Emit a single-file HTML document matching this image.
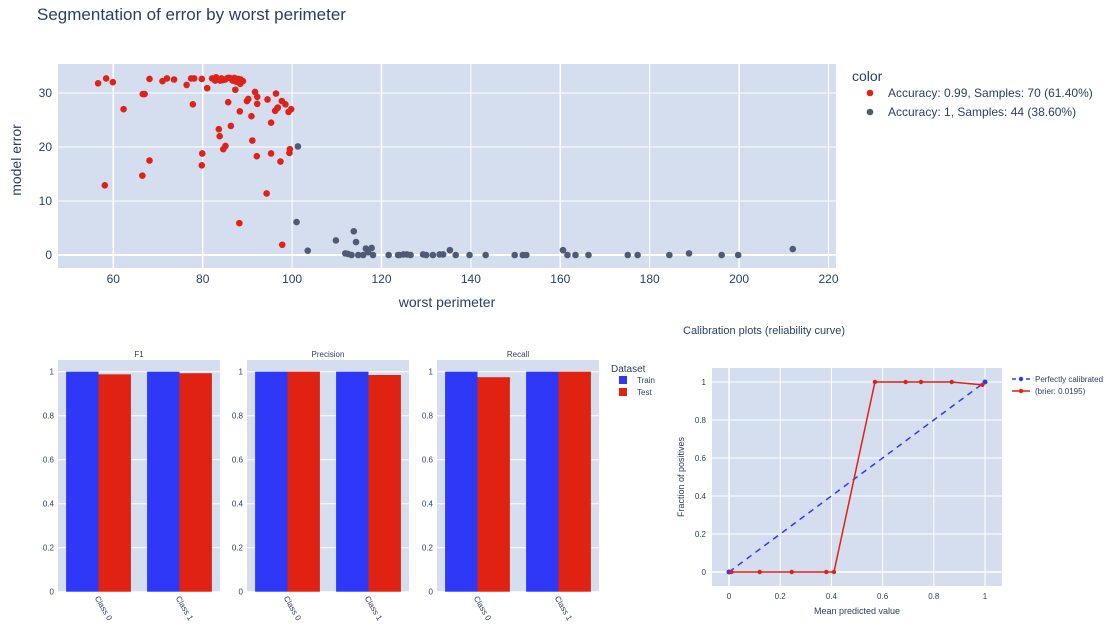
<!DOCTYPE html>
<html><head><meta charset="utf-8">
<style>
body{margin:0;background:#fff;font-family:"Liberation Sans",sans-serif;}
svg text{font-family:"Liberation Sans",sans-serif;fill:#2a3f5f;}
</style></head>
<body>
<svg id="s" width="1118" height="626" xmlns="http://www.w3.org/2000/svg">
<text x="37" y="20" font-size="17">Segmentation of error by worst perimeter</text>
</svg>
<script>
// ===== Scatter data =====
const redX=[56.6,58.4,59.9,62.3,58.1,66.5,68.1,67.0,68.1,71.0,72.0,73.6,76.4,77.4,78.1,77.8,79.8,81.0,79.9,79.8,82.1,82.8,83.9,84.2,85.6,86.7,87.1,88.0,88.4,89.0,87.3,85.7,88.3,89.9,83.6,83.8,86.3,84.6,85.1,88.2,90.9,91.1,91.7,92.2,92.2,92.1,94.3,94.5,95.3,95.3,96.4,97.7,96.2,96.7,98.5,97.4,97.8,99.2,99.8,99.5,99.4,85.0,86.0,84.5,87.5,88.5,66.6,90.2,83.0,96.8];
const redY=[31.8,32.7,32.0,27.0,12.9,14.7,17.5,29.8,32.6,32.2,32.7,32.5,31.5,32.7,32.7,27.9,32.6,30.9,18.8,16.6,32.7,32.3,32.3,32.7,32.8,32.3,32.8,32.6,31.7,32.2,30.6,28.3,26.6,28.5,23.3,22.0,23.9,19.6,20.2,5.9,25.7,21.2,30.2,29.3,28.0,18.3,11.4,28.8,24.5,18.8,29.9,28.5,26.7,27.2,27.9,17.3,1.9,26.5,27.0,19.6,18.9,32.5,32.8,32.4,32.1,32.5,29.8,28.9,32.9,27.3];
const greyX=[101.3,101.0,103.5,109.8,111.9,113.8,114.3,113.3,115.9,116.5,117.8,118.1,121.6,123.7,124.9,125.7,129.3,133.0,133.8,135.3,136.6,139.7,143.3,149.8,151.6,152.4,160.6,161.6,163.4,166.3,175.1,177.3,184.4,188.8,196.1,199.8,212.0,112.5,114.8,126.5,130.0,131.5,124.0,117.0];
const greyY=[20.1,6.1,0.8,2.7,0.3,4.4,2.4,0,0,1.2,1.3,0,0,0,0.1,0.1,0.1,0.1,0.1,0.9,0,0,0,0,0,0,0.9,0,0,0,0,0,0,0.3,0,0,1.1,0.2,0,0,0,0,0,0.5];
const scXTicks=[60,80,100,120,140,160,180,200,220];
const scYTicks=[0,10,20,30];
// ===== Bar data =====
const barPanels=["F1","Precision","Recall"];
const barCats=["Class 0","Class 1"];
const trainVals=[[1,1],[1,1],[1,1]];
const testVals=[[0.988,0.993],[1,0.985],[0.975,1]];
const barYTicks=[0,0.2,0.4,0.6,0.8,1];
// ===== Calibration data =====
const perfX=[0,1];
const perfY=[0,1];
const calX=[0.01,0.12,0.245,0.38,0.41,0.57,0.69,0.75,0.87,0.99];
const calY=[0,0,0,0,0,1,1,1,1,0.985];
const calTicks=[0,0.2,0.4,0.6,0.8,1];

const S=document.getElementById('s');
const NS='http://www.w3.org/2000/svg';
function mk(tag,attrs,parent){const e=document.createElementNS(NS,tag);for(const k in attrs)e.setAttribute(k,attrs[k]);(parent||S).appendChild(e);return e;}
function txt(x,y,str,size,anchor,parent){const t=mk('text',{x:x,y:y,'font-size':size,'text-anchor':anchor||'start'},parent);t.textContent=str;return t;}

// ===== Scatter =====
const sc={x0:58,x1:836,y0:64,y1:268};
const sx=v=>113.3+(v-60)*4.47;
const sy=v=>255-v*5.4;
let g=mk('g',{});


mk('rect',{x:sc.x0,y:sc.y0,width:sc.x1-sc.x0,height:sc.y1-sc.y0,fill:'#d5deee'},g);
scXTicks.forEach(v=>{mk('line',{x1:sx(v),x2:sx(v),y1:sc.y0,y2:sc.y1,stroke:'#fff','stroke-width':v==60||v%40==0?1.5:1},g);const t=txt(sx(v),283,String(v),12,'middle',g);});
scYTicks.forEach(v=>{mk('line',{x1:sc.x0,x2:sc.x1,y1:sy(v),y2:sy(v),stroke:'#fff','stroke-width':v==0?2:1},g);const t=txt(52,sy(v)+4,String(v),12,'end',g);});
let t=txt(447,307,'worst perimeter',14,'middle',g);

t=txt(0,0,'model error',14,'middle',g);t.setAttribute('transform','translate(21,160) rotate(-90)');

greyX.forEach((v,i)=>{const c=mk('circle',{cx:sx(v),cy:sy(greyY[i]),r:3.3,fill:'#4f5b73'},g);});
redX.forEach((v,i)=>{const c=mk('circle',{cx:sx(v),cy:sy(redY[i]),r:3.3,fill:'#e0211a'},g);});
// legend
let lg=mk('g',{});


txt(852,81,'color',14,'start',lg);
mk('circle',{cx:870,cy:93,r:3.3,fill:'#e0211a'},lg);
txt(888,97,'Accuracy: 0.99, Samples: 70 (61.40%)',12,'start',lg);
mk('circle',{cx:870,cy:112,r:3.3,fill:'#4f5b73'},lg);
txt(888,116,'Accuracy: 1, Samples: 44 (38.60%)',12,'start',lg);

// ===== Bars =====
const panelX=[58,247,437];
const pw=162, by0=591.7, byScale=220, byTop=360;
const byf=v=>by0-v*byScale;
barPanels.forEach((name,p)=>{
  const pg=mk('g',{});
  
  
  const x0=panelX[p];
  mk('rect',{x:x0,y:byTop,width:pw,height:by0-byTop,fill:'#d5deee'},pg);
  barYTicks.forEach(v=>{mk('line',{x1:x0,x2:x0+pw,y1:byf(v),y2:byf(v),stroke:'#fff','stroke-width':1},pg);txt(x0-4,byf(v)+3,String(v),8,'end',pg);});
  txt(x0+pw/2,357,name,8,'middle',pg);
  const cw=pw/2;
  barCats.forEach((c,i)=>{
    const cx0=x0+i*cw+cw*0.1, bw=cw*0.4;
    const r1=mk('rect',{x:cx0,y:byf(trainVals[p][i]),width:bw,height:trainVals[p][i]*byScale,fill:'#2f38f6'},pg);
    
    const r2=mk('rect',{x:cx0+bw,y:byf(testVals[p][i]),width:bw,height:testVals[p][i]*byScale,fill:'#e02212'},pg);
    
    const lt=txt(0,0,c,8,'start',pg);lt.setAttribute('transform','translate('+(x0+i*cw+cw/2-4)+',598) rotate(60)');
  });
});
let bl=mk('g',{});


txt(611,372,'Dataset',10,'start',bl);
mk('rect',{x:619,y:376,width:8,height:8,fill:'#2f38f6'},bl);
txt(637,383,'Train',8,'start',bl);
mk('rect',{x:619,y:388,width:8,height:8,fill:'#e02212'},bl);
txt(637,395,'Test',8,'start',bl);

// ===== Calibration =====
const cg=mk('g',{});


const cx=v=>729+v*256, cy=v=>572-v*190;
txt(683,334,'Calibration plots (reliability curve)',11,'start',cg);
mk('rect',{x:712,y:368,width:290,height:218,fill:'#d5deee'},cg);
calTicks.forEach(v=>{
  mk('line',{x1:cx(v),x2:cx(v),y1:368,y2:586,stroke:'#fff','stroke-width':v==0?1.5:1},cg);
  mk('line',{x1:712,x2:1002,y1:cy(v),y2:cy(v),stroke:'#fff','stroke-width':v==0?1.5:1},cg);
  txt(cx(v),599,String(v),8,'middle',cg);
  txt(706,cy(v)+3,String(v),8,'end',cg);
});
txt(857,614,'Mean predicted value',9,'middle',cg);
t=txt(0,0,'Fraction of positives',9,'middle',cg);t.setAttribute('transform','translate(684,477) rotate(-90)');
let pts=perfX.map((v,i)=>cx(v)+','+cy(perfY[i])).join(' ');
const pl=mk('polyline',{points:pts,fill:'none',stroke:'#2f38f6','stroke-width':1.5,'stroke-dasharray':'6,5'},cg);

perfX.forEach((v,i)=>mk('circle',{cx:cx(v),cy:cy(perfY[i]),r:2.5,fill:'#2f38f6'},cg));
pts=calX.map((v,i)=>cx(v)+','+cy(calY[i])).join(' ');
const cl=mk('polyline',{points:pts,fill:'none',stroke:'#e02212','stroke-width':1.5},cg);

calX.forEach((v,i)=>mk('circle',{cx:cx(v),cy:cy(calY[i]),r:2.2,fill:'#e02212'},cg));
const cleg=mk('g',{},cg);


mk('line',{x1:1012,x2:1030,y1:379,y2:379,stroke:'#2f38f6','stroke-width':1.5,'stroke-dasharray':'4,3'},cleg);
mk('circle',{cx:1021,cy:379,r:2.2,fill:'#2f38f6'},cleg);
txt(1035,382,'Perfectly calibrated',8,'start',cleg);
mk('line',{x1:1012,x2:1030,y1:391,y2:391,stroke:'#e02212','stroke-width':1.5},cleg);
mk('circle',{cx:1021,cy:391,r:2.2,fill:'#e02212'},cleg);
txt(1035,394,'(brier:   0.0195)',8,'start',cleg);
</script>
</body></html>
